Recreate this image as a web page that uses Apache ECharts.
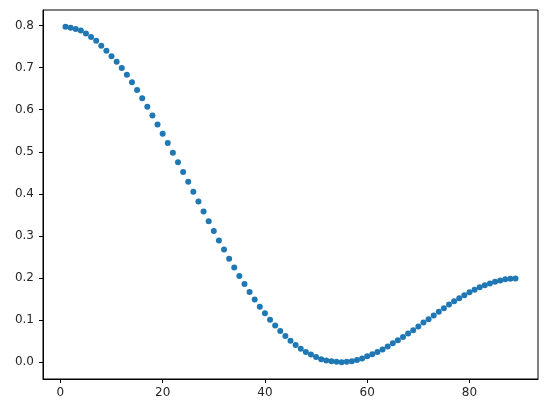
<!DOCTYPE html>
<html lang="en">
    <head>
        <meta charset="utf-8" />
        <title>Scatter</title>
        <style type="text/css">
            html, body { margin: 0; padding: 0; background: #fff; }
            #chart { width: 547px; height: 413px; }
        </style>
    </head>
    <body>
        <div id="chart"></div>
        <script src="https://cdn.jsdelivr.net/npm/echarts@6/dist/echarts.min.js"></script>
        <script>
            // x positions of the points
            const xValues = [
                1, 2, 3, 4, 5, 6, 7, 8, 9, 10,
                11, 12, 13, 14, 15, 16, 17, 18, 19, 20,
                21, 22, 23, 24, 25, 26, 27, 28, 29, 30,
                31, 32, 33, 34, 35, 36, 37, 38, 39, 40,
                41, 42, 43, 44, 45, 46, 47, 48, 49, 50,
                51, 52, 53, 54, 55, 56, 57, 58, 59, 60,
                61, 62, 63, 64, 65, 66, 67, 68, 69, 70,
                71, 72, 73, 74, 75, 76, 77, 78, 79, 80,
                81, 82, 83, 84, 85, 86, 87, 88, 89
            ];

            // y values
            const yValues = [
                0.797, 0.795, 0.792, 0.788, 0.781, 0.773, 0.764, 0.752, 0.740, 0.727,
                0.714, 0.699, 0.683, 0.665, 0.647, 0.627, 0.607, 0.586, 0.565, 0.543,
                0.521, 0.498, 0.475, 0.452, 0.429, 0.405, 0.382, 0.358, 0.335, 0.312,
                0.289, 0.268, 0.246, 0.225, 0.205, 0.186, 0.167, 0.149, 0.132, 0.116,
                0.101, 0.087, 0.074, 0.062, 0.051, 0.041, 0.032, 0.024, 0.018, 0.012,
                0.007, 0.004, 0.002, 0.001, 0.000, 0.001, 0.002, 0.005, 0.009, 0.014,
                0.019, 0.024, 0.030, 0.037, 0.045, 0.052, 0.060, 0.068, 0.076, 0.085,
                0.094, 0.102, 0.111, 0.120, 0.128, 0.137, 0.145, 0.152, 0.159, 0.166,
                0.172, 0.178, 0.183, 0.187, 0.191, 0.194, 0.197, 0.198, 0.199
            ];

            const xTicks = [0, 20, 40, 60, 80];
            const yTicks = [0.0, 0.1, 0.2, 0.3, 0.4, 0.5, 0.6, 0.7, 0.8];

            const points = xValues.map((x, i) => [x, yValues[i]]);

            let chart = echarts.init(document.querySelector("#chart"), null, {
                renderer: 'canvas'
            });

            const labelStyle = {
                color: '#262626',
                fontFamily: 'DejaVu Sans',
                fontSize: 12
            };

            const option = {
                animation: false,
                grid: {
                    left: 43,
                    right: 9,
                    top: 10,
                    bottom: 34,
                    show: true,
                    borderColor: '#000',
                    borderWidth: 1,
                    backgroundColor: '#fff'
                },
                xAxis: {
                    type: 'value',
                    min: -3.4,
                    max: 93.4,
                    splitLine: { show: false },
                    axisLine: { show: true, onZero: false, lineStyle: { color: '#000', width: 1 } },
                    axisTick: {
                        show: true, length: 4, customValues: xTicks,
                        lineStyle: { color: '#000', width: 1 }
                    },
                    axisLabel: Object.assign({ margin: 8, customValues: xTicks }, labelStyle)
                },
                yAxis: {
                    type: 'value',
                    min: -0.04,
                    max: 0.837,
                    splitLine: { show: false },
                    axisLine: { show: true, onZero: false, lineStyle: { color: '#000', width: 1 } },
                    axisTick: {
                        show: true, length: 4, customValues: yTicks,
                        lineStyle: { color: '#000', width: 1 }
                    },
                    axisLabel: Object.assign({
                        margin: 9,
                        customValues: yTicks,
                        formatter: (v) => v.toFixed(1)
                    }, labelStyle)
                },
                series: [{
                    type: 'scatter',
                    data: points,
                    symbol: 'circle',
                    symbolSize: 6,
                    itemStyle: { color: '#1f77b4', opacity: 1 }
                }]
            };

            chart.setOption(option);
        </script>
    </body>
</html>
